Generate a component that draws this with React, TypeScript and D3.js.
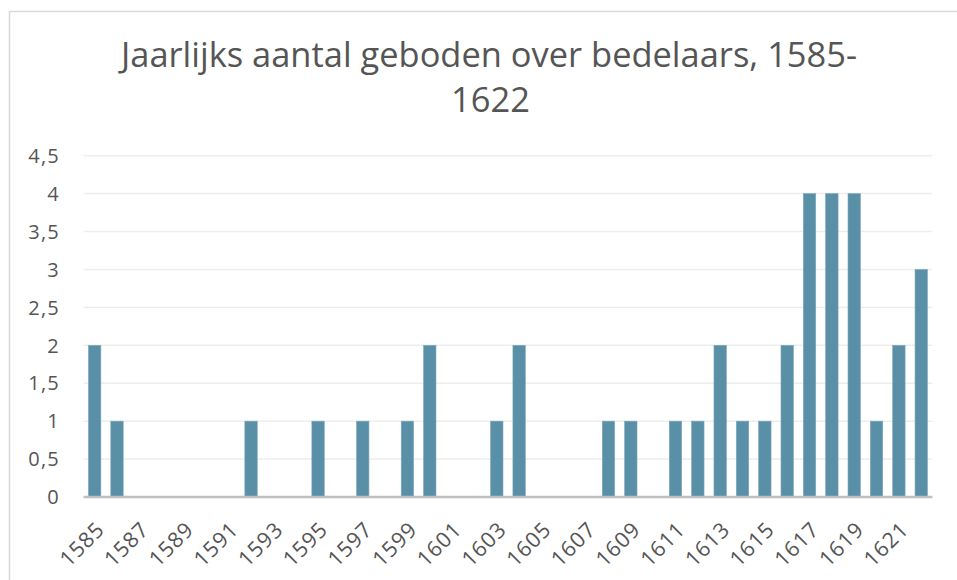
import React from "react";
import * as d3 from "d3";

const years: number[] = [
  1585, 1586, 1587, 1588, 1589, 1590, 1591, 1592, 1593, 1594,
  1595, 1596, 1597, 1598, 1599, 1600, 1601, 1602, 1603, 1604,
  1605, 1606, 1607, 1608, 1609, 1610, 1611, 1612, 1613, 1614,
  1615, 1616, 1617, 1618, 1619, 1620, 1621, 1622,
];
const counts: number[] = [
  2, 1, 0, 0, 0, 0, 0, 1, 0, 0,
  1, 0, 1, 0, 1, 2, 0, 0, 1, 2,
  0, 0, 0, 1, 1, 0, 1, 1, 2, 1,
  1, 2, 4, 4, 4, 1, 2, 3,
];
const yTicks: number[] = [0, 0.5, 1, 1.5, 2, 2.5, 3, 3.5, 4, 4.5];
const xTickLabels: number[] = years.filter((_, i) => i % 2 === 0);
const titleLines: string[] = ["Jaarlijks aantal geboden over bedelaars, 1585-", "1622"];

const W = 957;
const H = 580;
const plot = { left: 83.5, right: 932.4, top: 155.7, bottom: 497 };

export default function App() {
  const x = d3
    .scaleBand<number>()
    .domain(years)
    .range([plot.left, plot.right])
    .paddingInner(0.445)
    .paddingOuter(0.2225);
  const y = d3.scaleLinear().domain([0, 4.5]).range([plot.bottom, plot.top]);
  const fmt = (v: number) => String(v).replace(".", ",");
  const yLabelStyle: React.CSSProperties = {
    fontFamily: "'Open Sans', sans-serif",
    fontSize: "20px",
    letterSpacing: "1.2px",
  };
  const xLabelStyle: React.CSSProperties = {
    fontFamily: "'Open Sans', sans-serif",
    fontSize: "21.5px",
    letterSpacing: "0.8px",
  };

  return (
    <svg
      width={W}
      height={H}
      style={{ position: "absolute", left: 0, top: 0, background: "#fff" }}
    >
      <rect x={0} y={0} width={W} height={H} fill="#fff" />
      <path d={`M9.5,${H + 5} V11.5 H${W + 5}`} fill="none" stroke="#D9D9D9" strokeWidth={1.6} />

      <text
        x={489}
        y={67.3}
        textAnchor="middle"
        style={{ fontFamily: "'Open Sans', sans-serif", fontSize: "34.5px" }}
        fill="#555555"
        textLength={736}
        lengthAdjust="spacingAndGlyphs"
      >
        {titleLines[0]}
      </text>
      <text
        x={490.5}
        y={112.3}
        textAnchor="middle"
        style={{ fontFamily: "'Open Sans', sans-serif", fontSize: "34.5px" }}
        fill="#555555"
      >
        {titleLines[1]}
      </text>

      {yTicks.map((t) =>
        t === 0 ? null : (
          <line
            key={"g" + t}
            x1={plot.left}
            x2={plot.right}
            y1={y(t)}
            y2={y(t)}
            stroke="#EDEDED"
            strokeWidth={1.5}
          />
        )
      )}

      {yTicks.map((t) => (
        <text
          key={"y" + t}
          x={60}
          y={y(t)}
          dy="0.36em"
          textAnchor="end"
          style={yLabelStyle}
          fill="#555555"
        >
          {fmt(t)}
        </text>
      ))}

      {years.map((yr, i) =>
        counts[i] > 0 ? (
          <rect
            key={"b" + yr}
            x={x(yr)}
            y={y(counts[i])}
            width={x.bandwidth()}
            height={y(0) - y(counts[i])}
            fill="#5A8FA8"
            stroke="#7AA7BC"
            strokeWidth={0.6}
          />
        ) : null
      )}

      <line
        x1={plot.left}
        x2={plot.right}
        y1={plot.bottom}
        y2={plot.bottom}
        stroke="#BFBFBF"
        strokeWidth={2.5}
      />

      {xTickLabels.map((yr) => {
        const cx = (x(yr) as number) + x.bandwidth() / 2;
        return (
          <text
            key={"x" + yr}
            transform={`translate(${cx + 11},${531}) rotate(-45)`}
            textAnchor="end"
            style={xLabelStyle}
            fill="#555555"
          >
            {yr}
          </text>
        );
      })}
    </svg>
  );
}
